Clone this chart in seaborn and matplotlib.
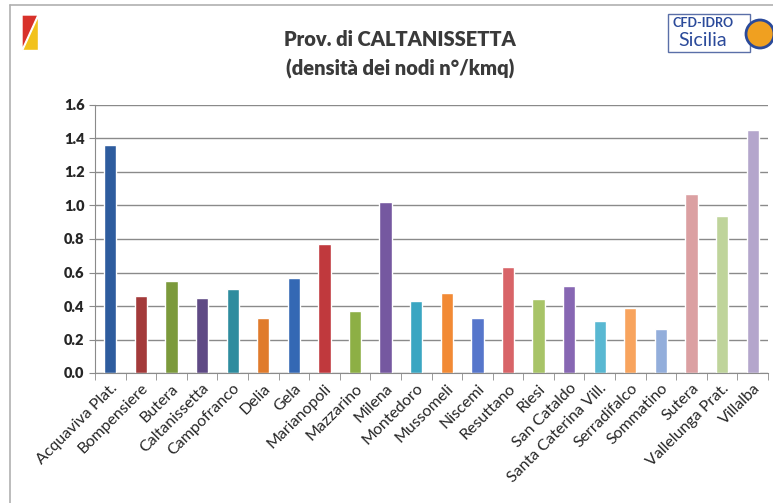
import matplotlib
matplotlib.use("Agg")
import pandas as pd
import seaborn as sns
import matplotlib.pyplot as plt
from matplotlib.patches import Rectangle, Polygon, Ellipse

comuni = ["Acquaviva Plat.", "Bompensiere", "Butera", "Caltanissetta", "Campofranco",
          "Delia", "Gela", "Marianopoli", "Mazzarino", "Milena", "Montedoro",
          "Mussomeli", "Niscemi", "Resuttano", "Riesi", "San Cataldo",
          "Santa Caterina Vill.", "Serradifalco", "Sommatino", "Sutera",
          "Vallelunga Prat.", "Villalba"]
densita = [1.36, 0.46, 0.55, 0.45, 0.50, 0.33, 0.57, 0.77, 0.37, 1.02, 0.43,
           0.48, 0.33, 0.63, 0.44, 0.52, 0.31, 0.39, 0.26, 1.07, 0.94, 1.45]
colori = ["#2E5C9E", "#A33A3A", "#7C9A3C", "#5F4A85", "#2E8C9E", "#E07B2C",
          "#3468B4", "#C0393D", "#8DAF45", "#7558A0", "#3AA6C2", "#F28A35",
          "#5676CB", "#D86468", "#A8C468", "#8767B3", "#59B8D2", "#F8A45E",
          "#93AEDB", "#DBA0A2", "#BFD49B", "#B4A6CC"]

df = pd.DataFrame({"comune": comuni, "densita": densita})

sns.set_style("white")
plt.rcParams["font.family"] = ["Lato", "DejaVu Sans"]

W, H = 773, 503
fig = plt.figure(figsize=(7.73, 5.03), dpi=100)
ax = fig.add_axes([95 / W, 130 / H, 673 / W, 268 / H])

sns.barplot(data=df, x="comune", y="densita", hue="comune", palette=colori,
            width=0.4, legend=False, saturation=1, ax=ax)

ax.set_ylim(0, 1.6)
ax.set_xlim(-0.5, len(comuni) - 0.5)
ax.set_yticks([i * 0.2 for i in range(9)])
ax.set_yticklabels([f"{i * 0.2:.1f}" for i in range(9)], fontsize=10.5, fontweight="heavy")
ax.yaxis.grid(True, color="#8a8a8a", linewidth=1)
ax.set_axisbelow(True)
ax.set_xlabel("")
ax.set_ylabel("")
ax.set_xticks(range(len(comuni)))
ax.set_xticklabels(comuni, rotation=45, ha="right", rotation_mode="anchor", fontsize=11.5)
ax.set_xticks([i - 0.5 for i in range(len(comuni) + 1)], minor=True)
ax.tick_params(axis="x", which="major", length=0, pad=6)
ax.tick_params(axis="x", which="minor", length=5, direction="out", color="#8a8a8a", bottom=True)
ax.tick_params(axis="y", length=4, direction="out", color="#8a8a8a", left=True)
for s in ["top", "right"]:
    ax.spines[s].set_visible(False)
for s in ["left", "bottom"]:
    ax.spines[s].set_color("#8a8a8a")

# titolo
fig.text(400 / W, 1 - 40 / H, "Prov. di CALTANISSETTA", ha="center", va="center",
         fontsize=14.5, fontweight="heavy", color="#3a3a3a")
fig.text(400 / W, 1 - 69 / H, "(densità dei nodi n°/kmq)", ha="center", va="center",
         fontsize=14.5, fontweight="heavy", color="#3a3a3a")

# cornice
fig.add_artist(plt.Line2D([10 / W, 10 / W], [0, 1 - 5 / H], color="#b0b0b0",
                          linewidth=1.2, transform=fig.transFigure))
fig.add_artist(plt.Line2D([10 / W, 1], [1 - 5 / H, 1 - 5 / H], color="#b0b0b0",
                          linewidth=1.2, transform=fig.transFigure))

# stemma Sicilia
fig.add_artist(Polygon([(22 / W, 1 - 15 / H), (38 / W, 1 - 15 / H), (22 / W, 1 - 50 / H)],
                       closed=True, facecolor="#d8312a", transform=fig.transFigure))
fig.add_artist(Polygon([(38 / W, 1 - 15 / H), (38 / W, 1 - 50 / H), (22 / W, 1 - 50 / H)],
                       closed=True, facecolor="#f2c21c", transform=fig.transFigure))

# logo CFD-IDRO
fig.add_artist(Rectangle((668 / W, 1 - 52 / H), 82 / W, 38 / H, facecolor="white",
                         edgecolor="#5a6fa8", linewidth=1, transform=fig.transFigure))
fig.text(703 / W, 1 - 23 / H, "CFD-IDRO", ha="center", va="center", fontsize=9,
         color="#2b4a9a", fontweight="bold")
fig.text(703 / W, 1 - 41 / H, "Sicilia", ha="center", va="center", fontsize=14,
         color="#2b4a9a")
fig.add_artist(Ellipse((760 / W, 1 - 34 / H), 28 / W, 28 / H, facecolor="#f0a020",
                       edgecolor="#2b4a9a", linewidth=2, transform=fig.transFigure))

fig.savefig("out.png", dpi=100)
